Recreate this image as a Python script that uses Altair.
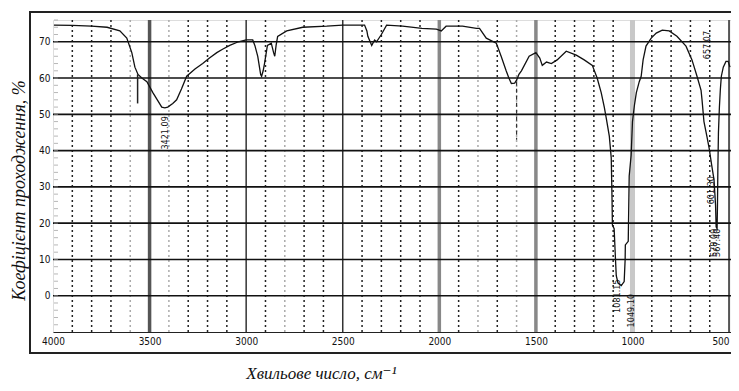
import altair as alt
import pandas as pd

# ---------------- data ----------------
wavenumber = [3995, 3900, 3800, 3720, 3654, 3618, 3592, 3576, 3560, 3540, 3514, 3483, 3460,
              3437, 3421, 3406, 3380, 3360, 3335, 3308, 3265, 3225, 3190, 3152, 3120, 3085,
              3040, 3000, 2966, 2955, 2940, 2925, 2920, 2912, 2905, 2890, 2870, 2858, 2852,
              2845, 2837, 2790, 2707, 2583, 2500, 2387, 2375, 2370, 2350, 2335, 2325, 2300,
              2273, 2190, 2090, 2015, 1990, 1965, 1880, 1808, 1792, 1757, 1705, 1680, 1654,
              1640, 1627, 1610, 1600, 1588, 1575, 1535, 1500, 1480, 1467, 1445, 1420, 1390,
              1343, 1291, 1250, 1208, 1183, 1162, 1146, 1136, 1120, 1110, 1106, 1104, 1095,
              1088, 1084, 1075, 1058, 1043, 1038, 1037, 1022, 1017, 1007, 1000, 990, 980,
              965, 955, 945, 930, 903, 877, 846, 810, 770, 723, 692, 666, 645, 640, 630,
              615, 603, 590, 578, 570, 567, 562, 560, 558, 555, 550, 545, 540, 530, 516,
              505, 495]
transmittance = [74.6, 74.5, 74.3, 74.0, 73.0, 71.0, 67.0, 63.0, 61.0, 60.0, 59.0, 56.0, 54.0,
                 52.0, 51.8, 52.0, 53.0, 54.0, 57.0, 60.5, 62.5, 64.0, 65.5, 67.0, 68.0, 69.0,
                 70.0, 70.5, 70.5, 69.0, 66.0, 61.0, 60.5, 62.0, 64.0, 69.0, 69.6, 67.0, 66.0,
                 69.0, 71.5, 73.0, 74.0, 74.3, 74.6, 74.6, 73.0, 71.5, 69.0, 70.5, 70.0, 72.0,
                 74.6, 74.3, 73.7, 73.5, 73.0, 74.3, 74.3, 73.7, 73.7, 71.0, 69.6, 66.0, 62.0,
                 60.0, 58.5, 58.6, 59.4, 61.0, 62.0, 66.0, 67.0, 65.5, 63.5, 64.4, 64.0, 65.0,
                 67.4, 66.3, 65.0, 63.5, 60.0, 56.0, 52.0, 49.0, 44.0, 38.0, 27.0, 19.5, 18.5,
                 10.0, 5.5, 3.5, 2.8, 3.9, 10.0, 14.0, 15.0, 33.0, 38.7, 48.0, 52.5, 56.0,
                 59.0, 60.5, 65.0, 68.8, 71.0, 72.4, 73.2, 73.0, 71.5, 68.8, 65.0, 60.5,
                 56.6, 54.0, 48.0, 44.0, 40.6, 36.0, 32.0, 25.0, 19.0, 18.5, 25.0, 35.0, 45.0,
                 52.0, 57.0, 60.5, 63.0, 64.6, 64.6, 63.0]

x_ticks = [4000, 3500, 3000, 2500, 2000, 1500, 1000, 500]
y_ticks = [0, 10, 20, 30, 40, 50, 60, 70]
y_minor = list(range(-8, 77, 2))

minor_dark = [3900, 3800, 3700, 3300, 3200, 3100, 2900, 2700, 2600, 2400, 2300, 2200, 2100,
              1900, 1700, 1400, 1300, 1200, 1100, 900, 800, 700, 600]
minor_light = [3600, 3400, 2800, 1800, 1600]
major_dark_thick = [3500]
major_thin = [3000, 2500]
major_grey = [2000, 1500]
major_light = [1000]
major_end = [500]

drop_x = [3562]
drop_top = [61]
drop_bottom = [53]
drop2_x = [1600]
drop2_top = [59]
drop2_bottom = [43]

peak_text = ["3421.09", "1081.15", "1049.10", "657.07", "601.30", "578.09", "567.40"]
peak_x = [3421, 1081, 1010, 612, 596, 578, 563]
peak_y = [49.5, 4.5, 0.5, 73, 33, 18.5, 18.5]

# ---------------- chart ----------------
W, H = 678, 312
xs = alt.Scale(domain=[4000, 490], nice=False, zero=False)
ys = alt.Scale(domain=[-10, 76], nice=False, zero=False)
LABEL_FONT = "Liberation Sans Narrow, DejaVu Sans Condensed, sans-serif"
TITLE_FONT = "Liberation Serif, DejaVu Serif, serif"
X_TITLE = "Хвильове число, см⁻¹"
Y_TITLE = "Коефіцієнт проходження, %"

x_axis = alt.Axis(values=x_ticks, format="d", title=X_TITLE,
                  grid=False, domain=True, domainColor="#222", domainWidth=1,
                  ticks=False, labelPadding=4, labelFont=LABEL_FONT,
                  labelFontSize=10, labelColor="#111", labelFlush=False,
                  labelAlign={"condition": {"test": "datum.value == 500", "value": "right"},
                              "value": "center"},
                  titleFont=TITLE_FONT, titleFontStyle="italic",
                  titleFontWeight="normal", titleFontSize=17, titleColor="#111",
                  titleX=268, titleY=46, titleBaseline="alphabetic")
y_axis = alt.Axis(values=y_ticks, title=Y_TITLE, grid=False,
                  domain=False, ticks=False, labelPadding=3, labelFont=LABEL_FONT,
                  labelFontSize=10, labelColor="#111",
                  titleFont=TITLE_FONT, titleFontStyle="italic",
                  titleFontWeight="normal", titleFontSize=18, titleColor="#111",
                  titleX=-34, titleY=170, titleAngle=-90, titleBaseline="middle")

X = lambda f="w": alt.X(f"{f}:Q", scale=xs, axis=x_axis, title=X_TITLE)
Y = lambda f="t": alt.Y(f"{f}:Q", scale=ys, axis=y_axis, title=Y_TITLE)

spec_df = pd.DataFrame({"w": wavenumber, "t": transmittance, "i": range(len(wavenumber))})


def vlines(values, color, width, dash=None):
    m = dict(color=color, strokeWidth=width)
    if dash:
        m["strokeDash"] = dash
    return alt.Chart(pd.DataFrame({"w": values})).mark_rule(**m).encode(x=X())


frame = alt.Chart().mark_rect(filled=False, stroke="#222", strokeWidth=2).encode(
    x=alt.value(-23), x2=alt.value(760), y=alt.value(-8), y2=alt.value(333))

hgrid = alt.Chart(pd.DataFrame({"t": y_ticks})).mark_rule(color="#111", strokeWidth=1.6).encode(
    y=Y())

minor_ticks = alt.Chart(pd.DataFrame({"t": y_minor})).mark_tick(
    color="#999", size=4, thickness=1).encode(y=Y(), x=alt.value(3))

spectrum = alt.Chart(spec_df).mark_line(color="#111", strokeWidth=1.3, clip=True).encode(
    x=X(), y=Y(), order="i:Q")

drop1 = alt.Chart(pd.DataFrame({"w": drop_x, "t": drop_top, "b": drop_bottom})).mark_rule(
    color="#222", strokeWidth=1.5).encode(x=X(), y=Y(), y2="b:Q")
drop2 = alt.Chart(pd.DataFrame({"w": drop2_x, "t": drop2_top, "b": drop2_bottom})).mark_rule(
    color="#333", strokeWidth=1.2, strokeDash=[4, 3]).encode(x=X(), y=Y(), y2="b:Q")

labels = alt.Chart(pd.DataFrame({"s": peak_text, "w": peak_x, "t": peak_y})).mark_text(
    angle=270, align="right", baseline="middle", fontSize=9, font=LABEL_FONT,
    color="#111").encode(x=X(), y=Y(), text="s:N")

chart = alt.layer(
    frame,
    vlines(minor_dark, "#222", 1.5, [2, 3]),
    vlines(minor_light, "#aaa", 1.5, [2, 3]),
    vlines(major_dark_thick, "#555", 3.5),
    vlines(major_thin, "#333", 1.5),
    vlines(major_grey, "#888", 3.5),
    vlines(major_light, "#c8c8c8", 5),
    vlines(major_end, "#555", 2),
    hgrid,
    minor_ticks,
    spectrum,
    drop1,
    drop2,
    labels,
).properties(
    width=W, height=H,
    padding={"left": 45, "top": 12, "right": 0, "bottom": 51},
    autosize=alt.AutoSizeParams(type="none"),
).configure_view(stroke=None).configure(background="white")

chart.save("out.html", embed_options={"renderer": "svg", "actions": False})
